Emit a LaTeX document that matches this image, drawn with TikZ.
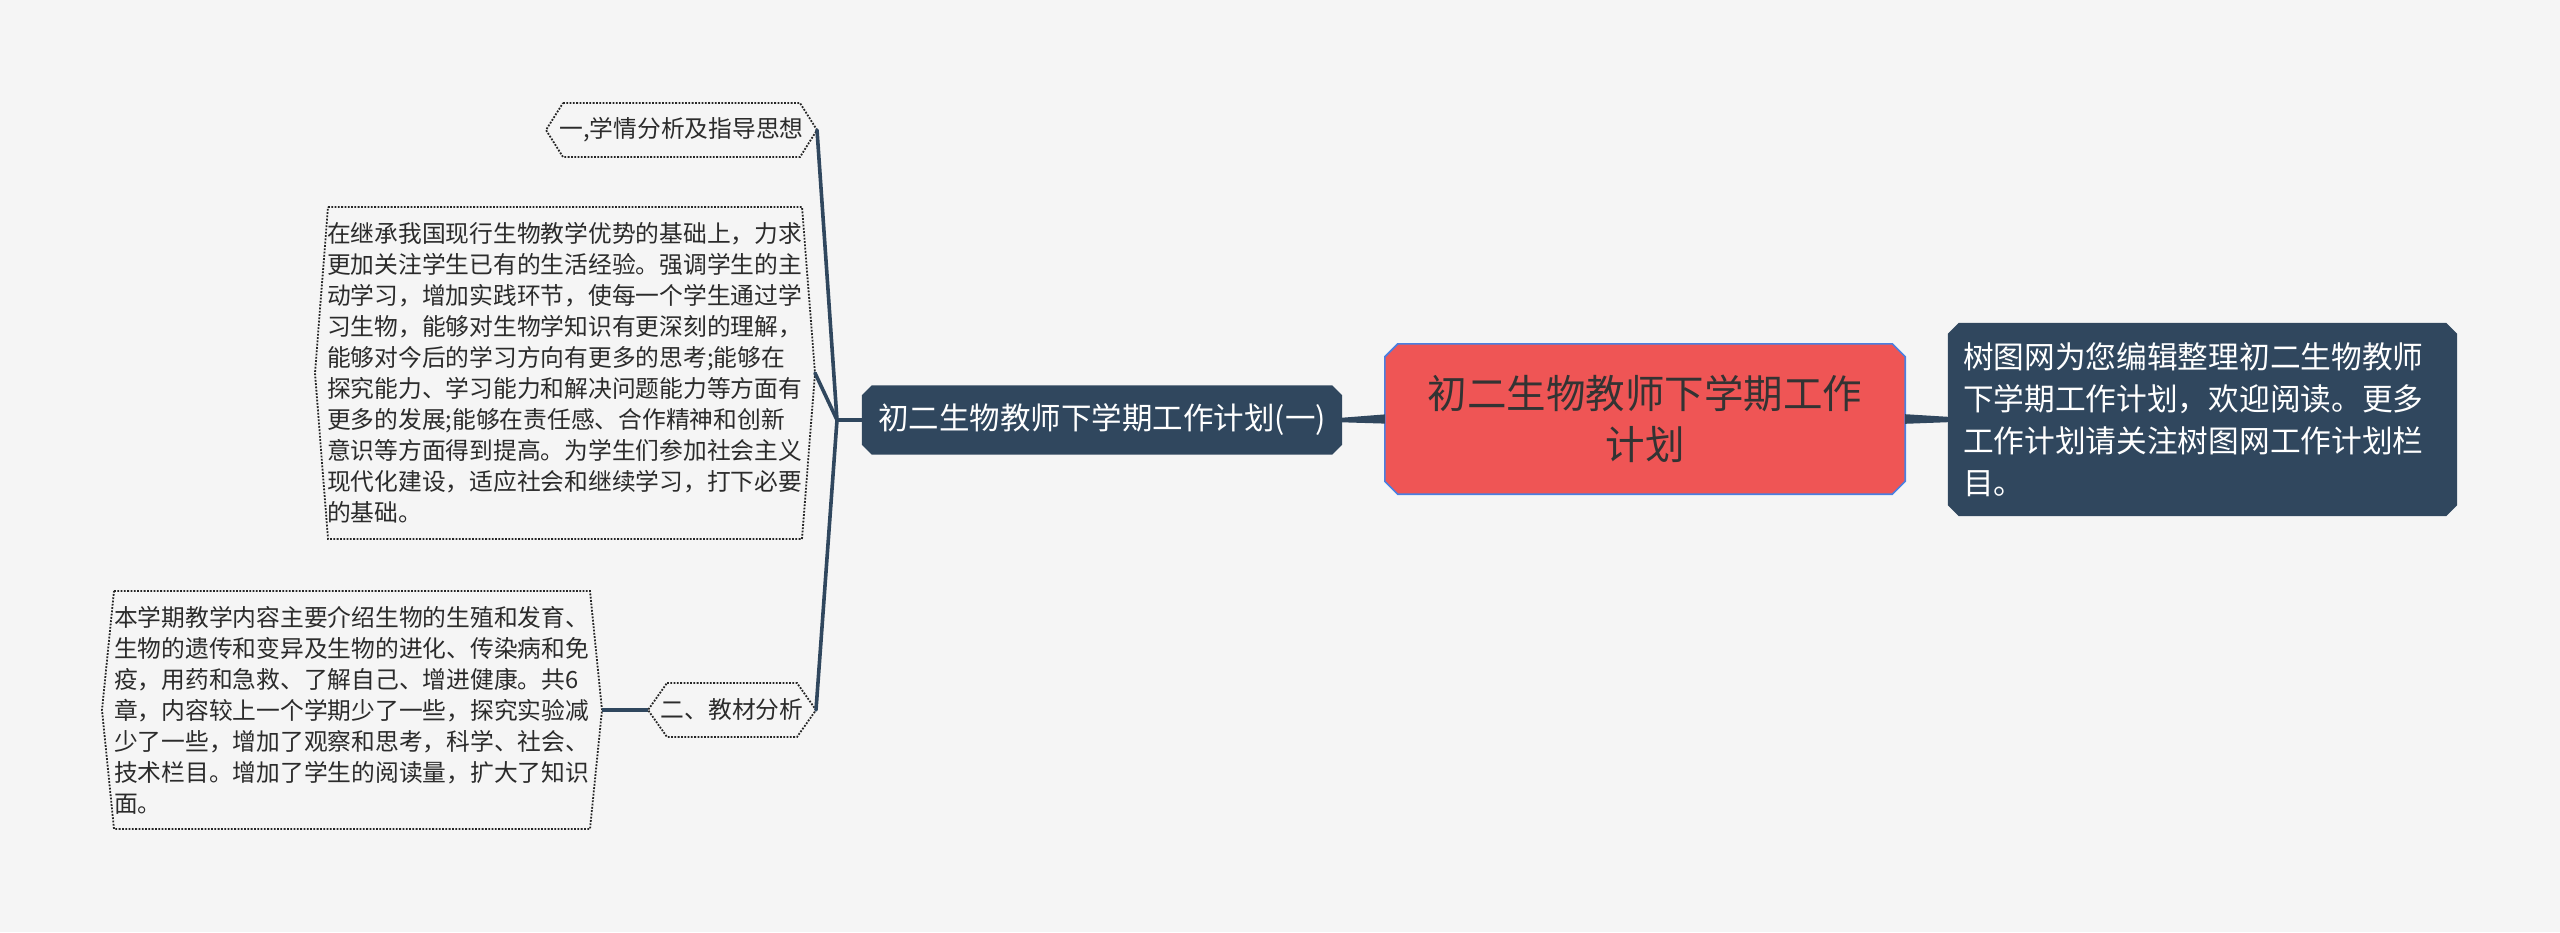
\documentclass[tikz,border=0pt]{standalone}
\usepackage{fontspec}
\newfontfamily\cjk{Noto Sans CJK SC}
\usetikzlibrary{calc,backgrounds}
\definecolor{bgc}{HTML}{F5F5F5}
\definecolor{navy}{HTML}{30475E}
\definecolor{rootred}{HTML}{EF5555}
\definecolor{rootedge}{HTML}{4A7FE0}
\definecolor{ink}{HTML}{2B2B2B}
\definecolor{rootink}{HTML}{333333}
% dotted hexagon around a node centre: name, half width, half height, tip distance
\newcommand\hexout[4]{%
  \draw[dotbox] ([xshift=-#2,yshift=#3]#1.center) -- ([xshift=#2,yshift=#3]#1.center)
    -- ([xshift=#4]#1.center) -- ([xshift=#2,yshift=-#3]#1.center)
    -- ([xshift=-#2,yshift=-#3]#1.center) -- ([xshift=-#4]#1.center) -- cycle;}
% chamfered outline from node anchors: name, chamfer, style
\newcommand\chamout[3]{%
  \path[#3] ([xshift=#2]#1.north west) -- ([xshift=-#2]#1.north east)
    -- ([yshift=-#2]#1.north east) -- ([yshift=#2]#1.south east)
    -- ([xshift=-#2]#1.south east) -- ([xshift=#2]#1.south west)
    -- ([yshift=#2]#1.south west) -- ([yshift=-#2]#1.north west) -- cycle;}
\begin{document}
\begin{tikzpicture}[x=1pt,y=-1pt,
  dotbox/.style={draw=black!85, line width=1.8pt, dash pattern=on 1.8pt off 1.5pt},
  conn/.style={draw=navy, line width=3.6pt, line cap=round},
  small/.style={font=\cjk\fontsize{23.75}{31}\selectfont, text=ink, inner sep=0pt},
  darkbox/.style={fill=navy},
  rootbox/.style={fill=rootred, draw=rootedge, line width=1.6pt}]
\begin{scope}[on background layer]
  \fill[bgc] (0,0) rectangle (2560,932);
\end{scope}
\useasboundingbox (0,0) rectangle (2560,932);

% root
\node[font=\cjk\fontsize{39.5}{51}\selectfont, text=rootink, align=center,
      minimum width=520pt, minimum height=150pt, inner sep=0pt] (root) at (1645,419)
      {初二生物教师下学期工作\\计划};
% description
\node[font=\cjk\fontsize{30.7}{41.8}\selectfont, text=white, align=left,
      text width=479pt, inner xsep=15pt, inner ysep=0pt, minimum height=193pt] (desc) at (2202.5,419.5)
      {树图网为您编辑整理初二生物教师\\下学期工作计划，欢迎阅读。更多\\工作计划请关注树图网工作计划栏\\目。};
% main branch
\node[font=\cjk\fontsize{30.5}{36}\selectfont, text=white,
      minimum width=480pt, minimum height=69pt, inner sep=0pt] (main) at (1102,420)
      {初二生物教师下学期工作计划(一)};

\begin{scope}[on background layer]
  \chamout{root}{13pt}{rootbox}
  \chamout{desc}{11pt}{darkbox}
  \chamout{main}{10pt}{darkbox}
\end{scope}

% children
\node[small] (h1) at (681.5,130) {一,学情分析及指导思想};
\node[small, text width=476pt, align=left] (b1) at (565,373)
 {在继承我国现行生物教学优势的基础上，力求\\
  更加关注学生已有的生活经验。强调学生的主\\
  动学习，增加实践环节，使每一个学生通过学\\
  习生物，能够对生物学知识有更深刻的理解，\\
  能够对今后的学习方向有更多的思考;能够在\\
  探究能力、学习能力和解决问题能力等方面有\\
  更多的发展;能够在责任感、合作精神和创新\\
  意识等方面得到提高。为学生们参加社会主义\\
  现代化建设，适应社会和继续学习，打下必要\\
  的基础。};
\node[small] (h2) at (732,710) {二、教材分析};
\node[small, text width=476pt, align=left] (b2) at (352,710)
 {本学期教学内容主要介绍生物的生殖和发育、\\
  生物的遗传和变异及生物的进化、传染病和免\\
  疫，用药和急救、了解自己、增进健康。共6\\
  章，内容较上一个学期少了一些，探究实验减\\
  少了一些，增加了观察和思考，科学、社会、\\
  技术栏目。增加了学生的阅读量，扩大了知识\\
  面。};

\hexout{h1}{118.5pt}{27pt}{135.5pt}
\hexout{b1}{237pt}{166pt}{250pt}
\hexout{h2}{65pt}{27pt}{84pt}
\hexout{b2}{238pt}{119pt}{250pt}

\coordinate (h1R) at ([xshift=135.5pt]h1.center);
\coordinate (b1R) at ([xshift=250pt]b1.center);
\coordinate (h2R) at ([xshift=84pt]h2.center);
\coordinate (h2L) at ([xshift=-84pt]h2.center);
\coordinate (b2R) at ([xshift=250pt]b2.center);
\coordinate (J) at (837,420);

% tapered connectors from root
\fill[navy] ($(root.west)+(0,-4.6)$) -- ($(main.east)+(0,-2.3)$) -- ($(main.east)+(0,2.3)$) -- ($(root.west)+(0,4.6)$) -- cycle;
\fill[navy] ($(root.east)+(0,-4.8)$) -- ($(desc.west)+(0,-2.7)$) -- ($(desc.west)+(0,2.7)$) -- ($(root.east)+(0,4.8)$) -- cycle;

% branch connectors
\draw[conn] (main.west) -- (J);
\draw[conn] (J) -- (h1R);
\draw[conn] (J) -- (b1R);
\draw[conn] (J) -- (h2R);
\draw[conn, line width=4pt, line cap=butt] (h2L) -- (b2R);
\end{tikzpicture}
\end{document}
